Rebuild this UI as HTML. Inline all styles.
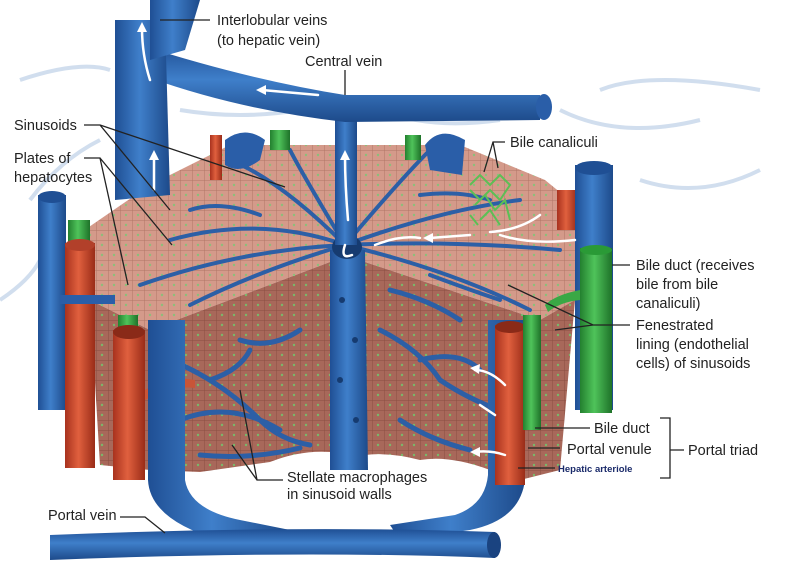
<!DOCTYPE html>
<html><head><meta charset="utf-8"><style>
html,body{margin:0;padding:0;background:#fff;}
svg{display:block;}
text{font-family:"Liberation Sans",sans-serif;font-size:14.5px;fill:#222;}
</style></head><body>
<svg width="800" height="576" viewBox="0 0 800 576" xmlns="http://www.w3.org/2000/svg">
<defs>
<linearGradient id="bv" x1="0" x2="1" y1="0" y2="0"><stop offset="0" stop-color="#1f4f94"/><stop offset="0.45" stop-color="#3f7fca"/><stop offset="1" stop-color="#1d4a8a"/></linearGradient>
<linearGradient id="bh" x1="0" x2="0" y1="0" y2="1"><stop offset="0" stop-color="#1f4f94"/><stop offset="0.45" stop-color="#3f7fca"/><stop offset="1" stop-color="#1d4a8a"/></linearGradient>
<linearGradient id="rv" x1="0" x2="1"><stop offset="0" stop-color="#a8321e"/><stop offset="0.45" stop-color="#e0603e"/><stop offset="1" stop-color="#9a2c18"/></linearGradient>
<linearGradient id="gv" x1="0" x2="1"><stop offset="0" stop-color="#23802f"/><stop offset="0.45" stop-color="#4fc35a"/><stop offset="1" stop-color="#1e7229"/></linearGradient>
<pattern id="cells" width="12" height="10" patternUnits="userSpaceOnUse"><rect width="12" height="10" fill="#d49a8a"/><path d="M0 0H12M0 0V10" stroke="#b07566" stroke-width="1"/><circle cx="6" cy="5" r="1.2" fill="#8cbf7a"/></pattern>
<pattern id="cellsd" width="12" height="10" patternUnits="userSpaceOnUse"><rect width="12" height="10" fill="#a8685a"/><path d="M0 0H12M0 0V10" stroke="#8a4e42" stroke-width="1"/><circle cx="6" cy="5" r="1.2" fill="#7ab86a"/></pattern>
</defs>
<!-- faint background vessels -->
<g stroke="#c6d6ea" stroke-width="4" fill="none" opacity="0.8">
<path d="M20 80 Q80 60 110 70"/><path d="M30 200 Q60 160 100 140"/><path d="M0 300 Q30 280 40 260"/>
<path d="M560 110 Q620 140 700 120"/><path d="M600 90 Q650 70 760 90"/><path d="M640 180 Q700 200 760 170"/>
<path d="M180 110 Q240 120 300 110"/><path d="M380 110 Q430 130 500 120"/>
</g>
<!-- block top -->
<path d="M70 240 L150 185 L230 145 L460 145 L545 180 L600 225 L575 300 L540 320 L365 262 L330 262 L150 330 L90 300 Z" fill="url(#cells)"/>
<!-- block front faces -->
<path d="M90 300 L150 330 L330 262 L330 452 Q300 450 270 462 L200 472 L150 470 L100 465 Z" fill="url(#cellsd)"/>
<path d="M365 262 L540 320 L575 300 L560 470 L520 480 L490 470 Q450 455 420 460 Q390 452 365 455 Z" fill="url(#cellsd)"/>
<!-- radial sinusoids on top -->
<g stroke="#2c5fa6" stroke-width="4" fill="none" stroke-linecap="round">
<path d="M345 245 Q260 215 170 240"/><path d="M345 245 Q280 180 230 160"/><path d="M345 245 Q300 170 290 150"/>
<path d="M345 245 Q240 250 140 285"/><path d="M345 245 Q400 180 430 150"/><path d="M345 245 Q440 210 520 200"/>
<path d="M345 245 Q450 240 560 250"/><path d="M345 245 Q450 270 530 310"/><path d="M345 245 Q260 270 190 305"/>
<path d="M260 215 Q220 200 190 210"/><path d="M420 195 Q460 190 490 200"/><path d="M430 275 Q470 290 500 300"/>
</g>
<!-- front sinusoids -->
<g stroke="#2c5fa6" stroke-width="5" fill="none" stroke-linecap="round">
<path d="M170 360 Q220 380 260 420 Q280 440 310 445"/><path d="M180 420 Q230 400 280 430"/><path d="M200 455 Q250 460 300 448"/>
<path d="M240 340 Q270 350 300 330"/><path d="M210 380 Q240 370 250 350"/>
<path d="M380 330 Q420 350 440 380 Q470 400 500 410"/><path d="M400 420 Q430 440 470 450"/><path d="M390 290 Q430 300 460 320"/><path d="M420 360 Q460 350 480 370"/>
</g>
<!-- central vein front tube -->
<path d="M330 250 L365 250 L368 470 L330 470 Z" fill="url(#bv)"/>
<ellipse cx="347" cy="247" rx="15" ry="12" fill="#163b70"/>
<g fill="#163b70"><circle cx="342" cy="300" r="3"/><circle cx="355" cy="340" r="3"/><circle cx="340" cy="380" r="3"/><circle cx="356" cy="420" r="3"/></g>
<!-- central vein up -->
<rect x="335" y="95" width="22" height="150" fill="url(#bv)"/>
<!-- horizontal interlobular vein -->
<path d="M140 45 Q250 80 345 95 L540 95 L540 120 L345 122 Q240 110 150 78 Z" fill="url(#bh)"/>
<ellipse cx="544" cy="107" rx="8" ry="13" fill="#2a5ea8"/>
<!-- big left vertical -->
<path d="M115 20 L165 20 L170 195 L115 200 Z" fill="url(#bv)"/>
<path d="M150 0 L200 0 L185 50 L150 60 Z" fill="url(#bv)"/>
<!-- small top vessels -->
<rect x="210" y="135" width="12" height="45" fill="url(#rv)"/>
<path d="M225 140 Q245 125 265 140 L260 160 Q240 175 225 165Z" fill="#2a5ea8"/>
<rect x="270" y="130" width="20" height="20" fill="url(#gv)"/>
<rect x="405" y="135" width="16" height="25" fill="url(#gv)"/>
<path d="M425 145 Q440 125 465 140 L462 175 L430 170Z" fill="#2a5ea8"/>
<!-- left vessels -->
<rect x="38" y="195" width="28" height="215" fill="url(#bv)"/><ellipse cx="52" cy="197" rx="14" ry="6" fill="#1f4f94"/>
<rect x="68" y="220" width="22" height="25" fill="url(#gv)"/>
<rect x="65" y="243" width="30" height="225" fill="url(#rv)"/><ellipse cx="80" cy="245" rx="15" ry="6" fill="#b2402a"/>
<rect x="118" y="315" width="20" height="20" fill="url(#gv)"/>
<rect x="113" y="330" width="32" height="150" fill="url(#rv)"/><ellipse cx="129" cy="332" rx="16" ry="7" fill="#8a2a18"/>
<path d="M145 390 Q170 375 195 380 L195 388 Q170 385 145 400Z" fill="#c85538"/>
<rect x="60" y="295" width="55" height="9" fill="#2a5ea8"/>
<!-- front left vein and right vein connecting to portal vein -->
<path d="M148 320 L185 320 L185 480 Q190 510 240 520 L290 530 L280 545 L220 540 Q150 520 148 480 Z" fill="url(#bv)"/>
<path d="M488 320 L525 320 L525 480 Q520 520 470 530 L400 540 L390 525 L455 515 Q485 505 488 475 Z" fill="url(#bv)"/>
<!-- right vessels -->
<rect x="495" y="325" width="30" height="160" fill="url(#rv)"/><ellipse cx="510" cy="327" rx="15" ry="6" fill="#8a2a18"/>
<rect x="523" y="315" width="18" height="115" fill="url(#gv)"/>
<rect x="557" y="190" width="20" height="40" fill="url(#rv)"/>
<rect x="575" y="165" width="38" height="245" fill="url(#bv)"/><ellipse cx="594" cy="168" rx="19" ry="7" fill="#1f4f94"/>
<rect x="580" y="248" width="32" height="165" fill="url(#gv)"/><ellipse cx="596" cy="250" rx="16" ry="5" fill="#2a9a36"/>
<path d="M580 290 Q555 295 545 305 L548 312 Q560 302 580 300Z" fill="#3aa845"/>
<!-- bile canaliculi green net -->
<g stroke="#5cbf55" stroke-width="2" fill="none">
<path d="M470 185 L480 175 L490 185 L500 175 L510 185 L500 200 L490 190 L480 200 L470 190 M475 205 L485 195 L495 210 L505 200 L510 220 M480 220 L490 210 L500 225 M470 215 L478 225"/>
</g>
<!-- portal vein -->
<path d="M50 535 Q300 525 495 532 L495 558 Q300 550 50 560 Z" fill="url(#bh)"/>
<ellipse cx="494" cy="545" rx="7" ry="13" fill="#1a4380"/>
<!-- white arrows -->
<g stroke="#fff" stroke-width="2.5" fill="none" stroke-linecap="round">
<path d="M150 80 Q142 55 142 28"/><path d="M154 190 L154 155"/><path d="M318 95 L262 90"/><path d="M348 220 Q345 185 345 155"/>
<path d="M352 255 Q340 260 345 245"/><path d="M375 245 Q400 235 420 238"/><path d="M430 238 L470 235"/><path d="M490 232 Q520 230 540 215"/>
<path d="M500 235 Q530 245 575 240"/><path d="M505 385 Q490 370 475 370"/><path d="M495 415 L480 405"/><path d="M505 455 Q490 450 475 452"/>
</g>
<g fill="#fff"><path d="M142 22 L137 32 L147 32Z"/><path d="M154 150 L149 160 L159 160Z"/><path d="M256 90 L266 85 L266 95Z"/><path d="M345 150 L340 160 L350 160Z"/><path d="M423 238 L433 233 L433 243Z"/><path d="M470 368 L480 364 L479 374Z"/><path d="M470 452 L480 447 L480 457Z"/></g>
<!-- leader lines -->
<g stroke="#222" stroke-width="1.3" fill="none">
<path d="M160 20 L210 20"/><path d="M345 70 L345 95"/>
<path d="M84 125 L100 125 L170 210 M100 125 L285 187"/>
<path d="M84 158 L100 158 L128 285 M100 158 L172 245"/>
<path d="M505 142 L493 142 L484 172 M493 142 L498 168"/>
<path d="M612 265 L630 265"/>
<path d="M630 325 L593 325 L508 285 M593 325 L555 330"/>
<path d="M535 428 L590 428"/><path d="M528 448 L560 448"/><path d="M518 468 L555 468"/>
<path d="M660 418 L670 418 L670 478 L660 478 M670 450 L684 450"/>
<path d="M283 480 L257 480 L240 390 M257 480 L232 445"/>
<path d="M120 517 L145 517 L165 533"/>
</g>
<!-- labels -->
<text x="217" y="25">Interlobular veins</text>
<text x="217" y="45">(to hepatic vein)</text>
<text x="305" y="66">Central vein</text>
<text x="14" y="130">Sinusoids</text>
<text x="14" y="163">Plates of</text>
<text x="14" y="182">hepatocytes</text>
<text x="510" y="147">Bile canaliculi</text>
<text x="636" y="270">Bile duct (receives</text>
<text x="636" y="289">bile from bile</text>
<text x="636" y="308">canaliculi)</text>
<text x="636" y="330">Fenestrated</text>
<text x="636" y="349">lining (endothelial</text>
<text x="636" y="368">cells) of sinusoids</text>
<text x="594" y="433">Bile duct</text>
<text x="567" y="454">Portal venule</text>
<text x="558" y="472" style="font-size:9.5px;font-weight:bold;fill:#1a2a6a">Hepatic arteriole</text>
<text x="688" y="455">Portal triad</text>
<text x="287" y="482">Stellate macrophages</text>
<text x="287" y="499">in sinusoid walls</text>
<text x="48" y="520">Portal vein</text>
</svg>
</body></html>
